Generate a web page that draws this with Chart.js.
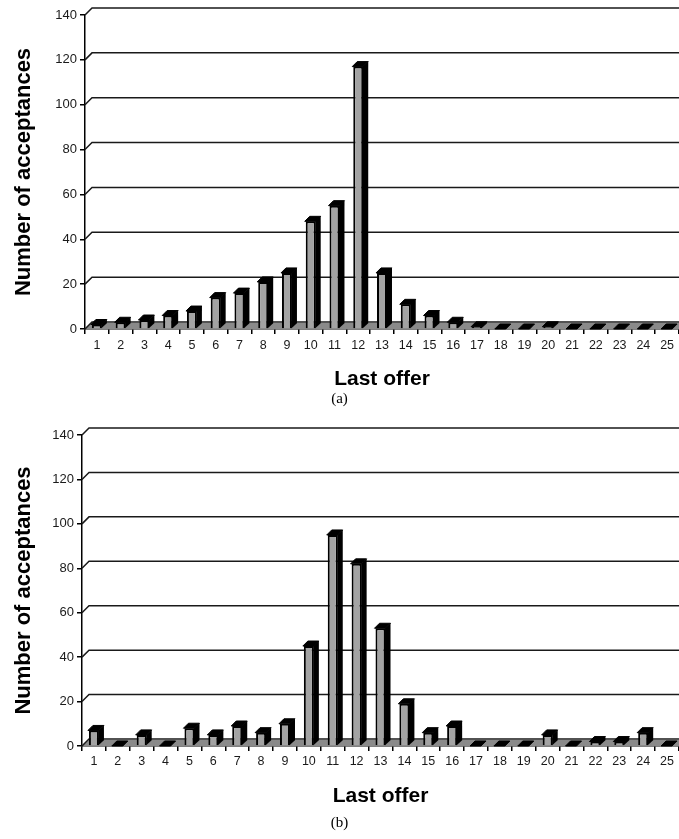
<!DOCTYPE html>
<html>
<head>
<meta charset="utf-8">
<script src="https://cdn.jsdelivr.net/npm/chart.js@4.4.1/dist/chart.umd.min.js"></script>
<style>
    html, body { margin: 0; padding: 0; background: #fff; }
    .painel { position: absolute; left: 0; width: 679px; }
    #painelA { top: 0; height: 410px; }
    #painelB { top: 420px; height: 419px; }
</style>
</head>
<body>
<div class="painel" id="painelA"><canvas id="graficoA" width="679" height="410"></canvas></div>
<div class="painel" id="painelB"><canvas id="graficoB" width="679" height="419"></canvas></div>
<script>
// ultimas ofertas (eixo X)
const ofertas = ['1', '2', '3', '4', '5', '6', '7', '8', '9', '10', '11', '12', '13',
    '14', '15', '16', '17', '18', '19', '20', '21', '22', '23', '24', '25'];

// numero de aceitacoes, painel (a)
const aceitacoesA = [2, 3, 4, 6, 8, 14, 16, 21, 25, 48, 55, 117, 25, 11, 6, 3, 1, 0, 0, 1, 0, 0, 0, 0, 0];

// numero de aceitacoes, painel (b)
const aceitacoesB = [7, 0, 5, 0, 8, 5, 9, 6, 10, 45, 95, 82, 53, 19, 6, 9, 0, 0, 0, 5, 0, 2, 2, 6, 0];

const ticksY = [0, 20, 40, 60, 80, 100, 120, 140];

const PAREDE = 7;   // profundidade da parede/chao
const BARRA_DX = 5; // lateral das barras
const BARRA_DY = 5; // topo das barras

// parede do fundo com linhas de grade + chao cinza
const efeito3d = {
    id: 'efeito3d',
    beforeDatasetsDraw(chart) {
        const { ctx, chartArea, scales } = chart;
        const y = scales.y;
        ctx.save();
        ctx.strokeStyle = '#1a1a1a';
        ctx.lineWidth = 1.5;

        // chao
        const base = y.getPixelForValue(0);
        ctx.fillStyle = '#8a8a8a';
        ctx.beginPath();
        ctx.moveTo(chartArea.left, base);
        ctx.lineTo(chartArea.left + PAREDE, base - PAREDE + 1);
        ctx.lineTo(chartArea.right, base - PAREDE + 1);
        ctx.lineTo(chartArea.right, base);
        ctx.closePath();
        ctx.fill();

        ticksY.forEach(v => {
            const py = y.getPixelForValue(v);
            ctx.beginPath();
            ctx.moveTo(chartArea.left, py);
            ctx.lineTo(chartArea.left + PAREDE, py - PAREDE);
            ctx.lineTo(chartArea.right, py - PAREDE);
            ctx.stroke();
        });
        ctx.restore();
    },
    afterDatasetsDraw(chart) {
        const { ctx } = chart;
        const meta = chart.getDatasetMeta(0);
        ctx.save();
        ctx.fillStyle = '#000';
        ctx.strokeStyle = '#000';
        ctx.lineWidth = 1;
        meta.data.forEach(barra => {
            const { x, y, width, base } = barra.getProps(['x', 'y', 'width', 'base'], true);
            const esq = x - width / 2 - 1;
            const dir = x + width / 2;
            // topo
            ctx.beginPath();
            ctx.moveTo(esq, y);
            ctx.lineTo(esq + BARRA_DX, y - BARRA_DY);
            ctx.lineTo(dir + BARRA_DX, y - BARRA_DY);
            ctx.lineTo(dir, y);
            ctx.closePath();
            ctx.fill();
            ctx.stroke();
            // lateral
            ctx.beginPath();
            ctx.moveTo(dir - 0.5, y);
            ctx.lineTo(dir + BARRA_DX, y - BARRA_DY);
            ctx.lineTo(dir + BARRA_DX, base - BARRA_DY);
            ctx.lineTo(dir - 0.5, base);
            ctx.closePath();
            ctx.fill();
        });
        ctx.restore();
    }
};

function criarGrafico(idCanvas, dados, legenda, cfg) {
    const canva = document.getElementById(idCanvas).getContext('2d');
    return new Chart(canva, {
        type: 'bar',
        data: {
            labels: ofertas,
            datasets: [{
                data: dados,
                backgroundColor: '#a3a3a3',
                borderColor: '#000',
                borderWidth: 2,
                categoryPercentage: 1,
                barPercentage: 0.42
            }]
        },
        plugins: [efeito3d],
        options: {
            responsive: false,
            animation: false,
            layout: { padding: { top: 15, left: 0, right: 0, bottom: 0 } },
            plugins: {
                legend: { display: false },
                tooltip: { enabled: false },
                title: {
                    display: true,
                    text: legenda,
                    position: 'bottom',
                    color: '#000',
                    font: { family: 'Liberation Serif', size: 15, weight: 'normal', lineHeight: 1.2 },
                    padding: { top: 0, bottom: cfg.padLegenda }
                }
            },
            scales: {
                x: {
                    grid: { display: true, drawOnChartArea: false, drawTicks: true, tickLength: 5, color: '#000', lineWidth: 1.5, offset: true },
                    border: { display: true, color: '#000', width: 1.5 },
                    ticks: { color: '#1a1a1a', padding: cfg.padTicksX, font: { family: 'Liberation Sans', size: 12.5 } },
                    title: {
                        display: true,
                        text: 'Last offer',
                        color: '#000',
                        font: { family: 'Liberation Sans', size: 21, weight: 'bold', lineHeight: 1 },
                        padding: { top: 0, bottom: cfg.padTituloX }
                    },
                    afterFit(escala) { escala.height = cfg.alturaX; }
                },
                y: {
                    min: 0,
                    max: 140,
                    ticks: { stepSize: 20, color: '#1a1a1a', padding: 3, font: { family: 'Liberation Sans', size: 13 } },
                    grid: { display: true, drawOnChartArea: false, drawTicks: true, tickLength: 5, color: '#000', lineWidth: 1.5 },
                    border: { display: true, color: '#000', width: 1.5 },
                    title: {
                        display: true,
                        text: 'Number of acceptances',
                        color: '#000',
                        font: { family: 'Liberation Sans', size: 22, weight: 'bold', lineHeight: 1 },
                        padding: { top: 13, bottom: 0 }
                    },
                    afterFit(escala) { escala.width = cfg.larguraY; }
                }
            }
        }
    });
}

criarGrafico('graficoA', aceitacoesA, '(a)', { larguraY: 85, alturaX: 61, padTicksX: 4, padTituloX: 0, padLegenda: 2 });
criarGrafico('graficoB', aceitacoesB, '(b)', { larguraY: 82, alturaX: 68, padTicksX: 3, padTituloX: 7, padLegenda: 7 });
</script>
</body>
</html>
